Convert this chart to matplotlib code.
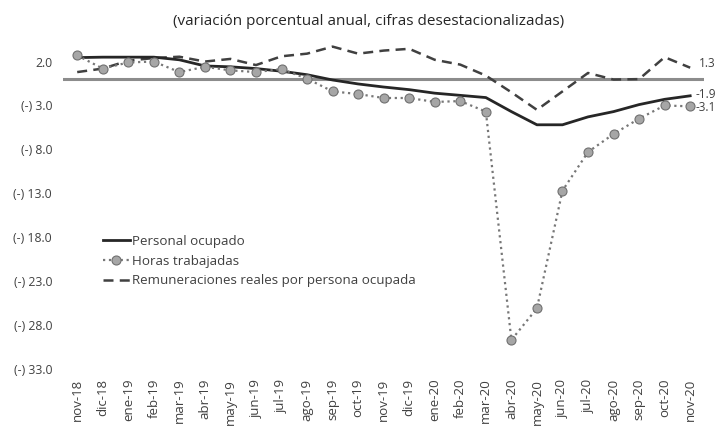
import numpy as np
import matplotlib.pyplot as plt

plt.rcParams['font.family'] = ['Open Sans', 'DejaVu Sans']

# datos (variación porcentual anual)
meses = ['nov-18', 'dic-18', 'ene-19', 'feb-19', 'mar-19', 'abr-19', 'may-19',
         'jun-19', 'jul-19', 'ago-19', 'sep-19', 'oct-19', 'nov-19', 'dic-19',
         'ene-20', 'feb-20', 'mar-20', 'abr-20', 'may-20', 'jun-20', 'jul-20',
         'ago-20', 'sep-20', 'oct-20', 'nov-20']
personal = [2.45, 2.5, 2.5, 2.5, 2.2, 1.5, 1.4, 1.2, 0.9, 0.5, -0.1, -0.55,
            -0.9, -1.2, -1.6, -1.85, -2.1, -3.7, -5.2, -5.2, -4.3, -3.7,
            -2.9, -2.3, -1.9]
horas = [2.7, 1.2, 1.9, 2.0, 0.8, 1.4, 1.0, 0.8, 1.15, 0.05, -1.4, -1.7,
         -2.15, -2.15, -2.6, -2.5, -3.7, -29.7, -26.1, -12.7, -8.3, -6.25,
         -4.5, -3.0, -3.1]
remun = [0.8, 1.2, 2.1, 2.4, 2.55, 2.0, 2.3, 1.6, 2.6, 2.9, 3.7, 2.9, 3.25,
         3.45, 2.2, 1.65, 0.4, -1.5, -3.5, -1.4, 0.7, -0.05, 0.0, 2.5, 1.3]
yticks = [2, -3, -8, -13, -18, -23, -28, -33]

x = np.arange(len(meses))
txt = '#404040'

fig = plt.figure(figsize=(7.26, 4.28), dpi=100)
ax = fig.add_axes([0.087, 0.138, 0.883, 0.79])

ax.axhline(0, color='#8c8c8c', lw=2.2, zorder=1)
ax.plot(x, personal, color='#262626', lw=2, label='Personal ocupado', zorder=3)
ax.plot(x, horas, color='#777777', lw=1.6, ls=':', marker='o', ms=6.5,
        mfc='#a6a6a6', mec='#707070', mew=0.8, label='Horas trabajadas', zorder=4)
ax.plot(x, remun, color='#404040', lw=1.8, ls=(0, (4, 2.5)),
        label='Remuneraciones reales por persona ocupada', zorder=2)

# etiquetas finales
ax.text(x[-1] + 0.35, remun[-1] + 0.5, f'{remun[-1]:.1f}', fontsize=8.5,
        color=txt, va='center', ha='left')
ax.text(x[-1] + 0.2, personal[-1] + 0.15, f'{personal[-1]:.1f}', fontsize=8.5,
        color=txt, va='center', ha='left')
ax.text(x[-1] + 0.2, horas[-1] - 0.1, f'{horas[-1]:.1f}', fontsize=8.5,
        color=txt, va='center', ha='left')

ax.set_xlim(-0.55, len(meses) - 0.45)
ax.set_ylim(-33, 5.5)
ax.set_xticks(x)
ax.set_xticklabels(meses, rotation=90, fontsize=9.5, color=txt)
ax.set_yticks(yticks)
ax.set_yticklabels([f'{v:.1f}' if v > 0 else f'(-) {abs(v):.1f}' for v in yticks],
                   fontsize=8.8, color=txt)
ax.tick_params(length=0, pad=8)
ax.tick_params(axis='x', pad=7)
for s in ax.spines.values():
    s.set_visible(False)

ax.legend(loc='upper left', bbox_to_anchor=(103 / 726, 1 - 235 / 428),
          bbox_transform=fig.transFigure, frameon=False, borderpad=0,
          borderaxespad=0, fontsize=9.6, handlelength=2.0, handletextpad=0.15,
          labelspacing=0.5, labelcolor=txt)

fig.text(0.507, 0.949, '(variación porcentual anual, cifras desestacionalizadas)',
         ha='center', va='center', fontsize=11, color='#262626')

fig.savefig('out.png', dpi=100)
